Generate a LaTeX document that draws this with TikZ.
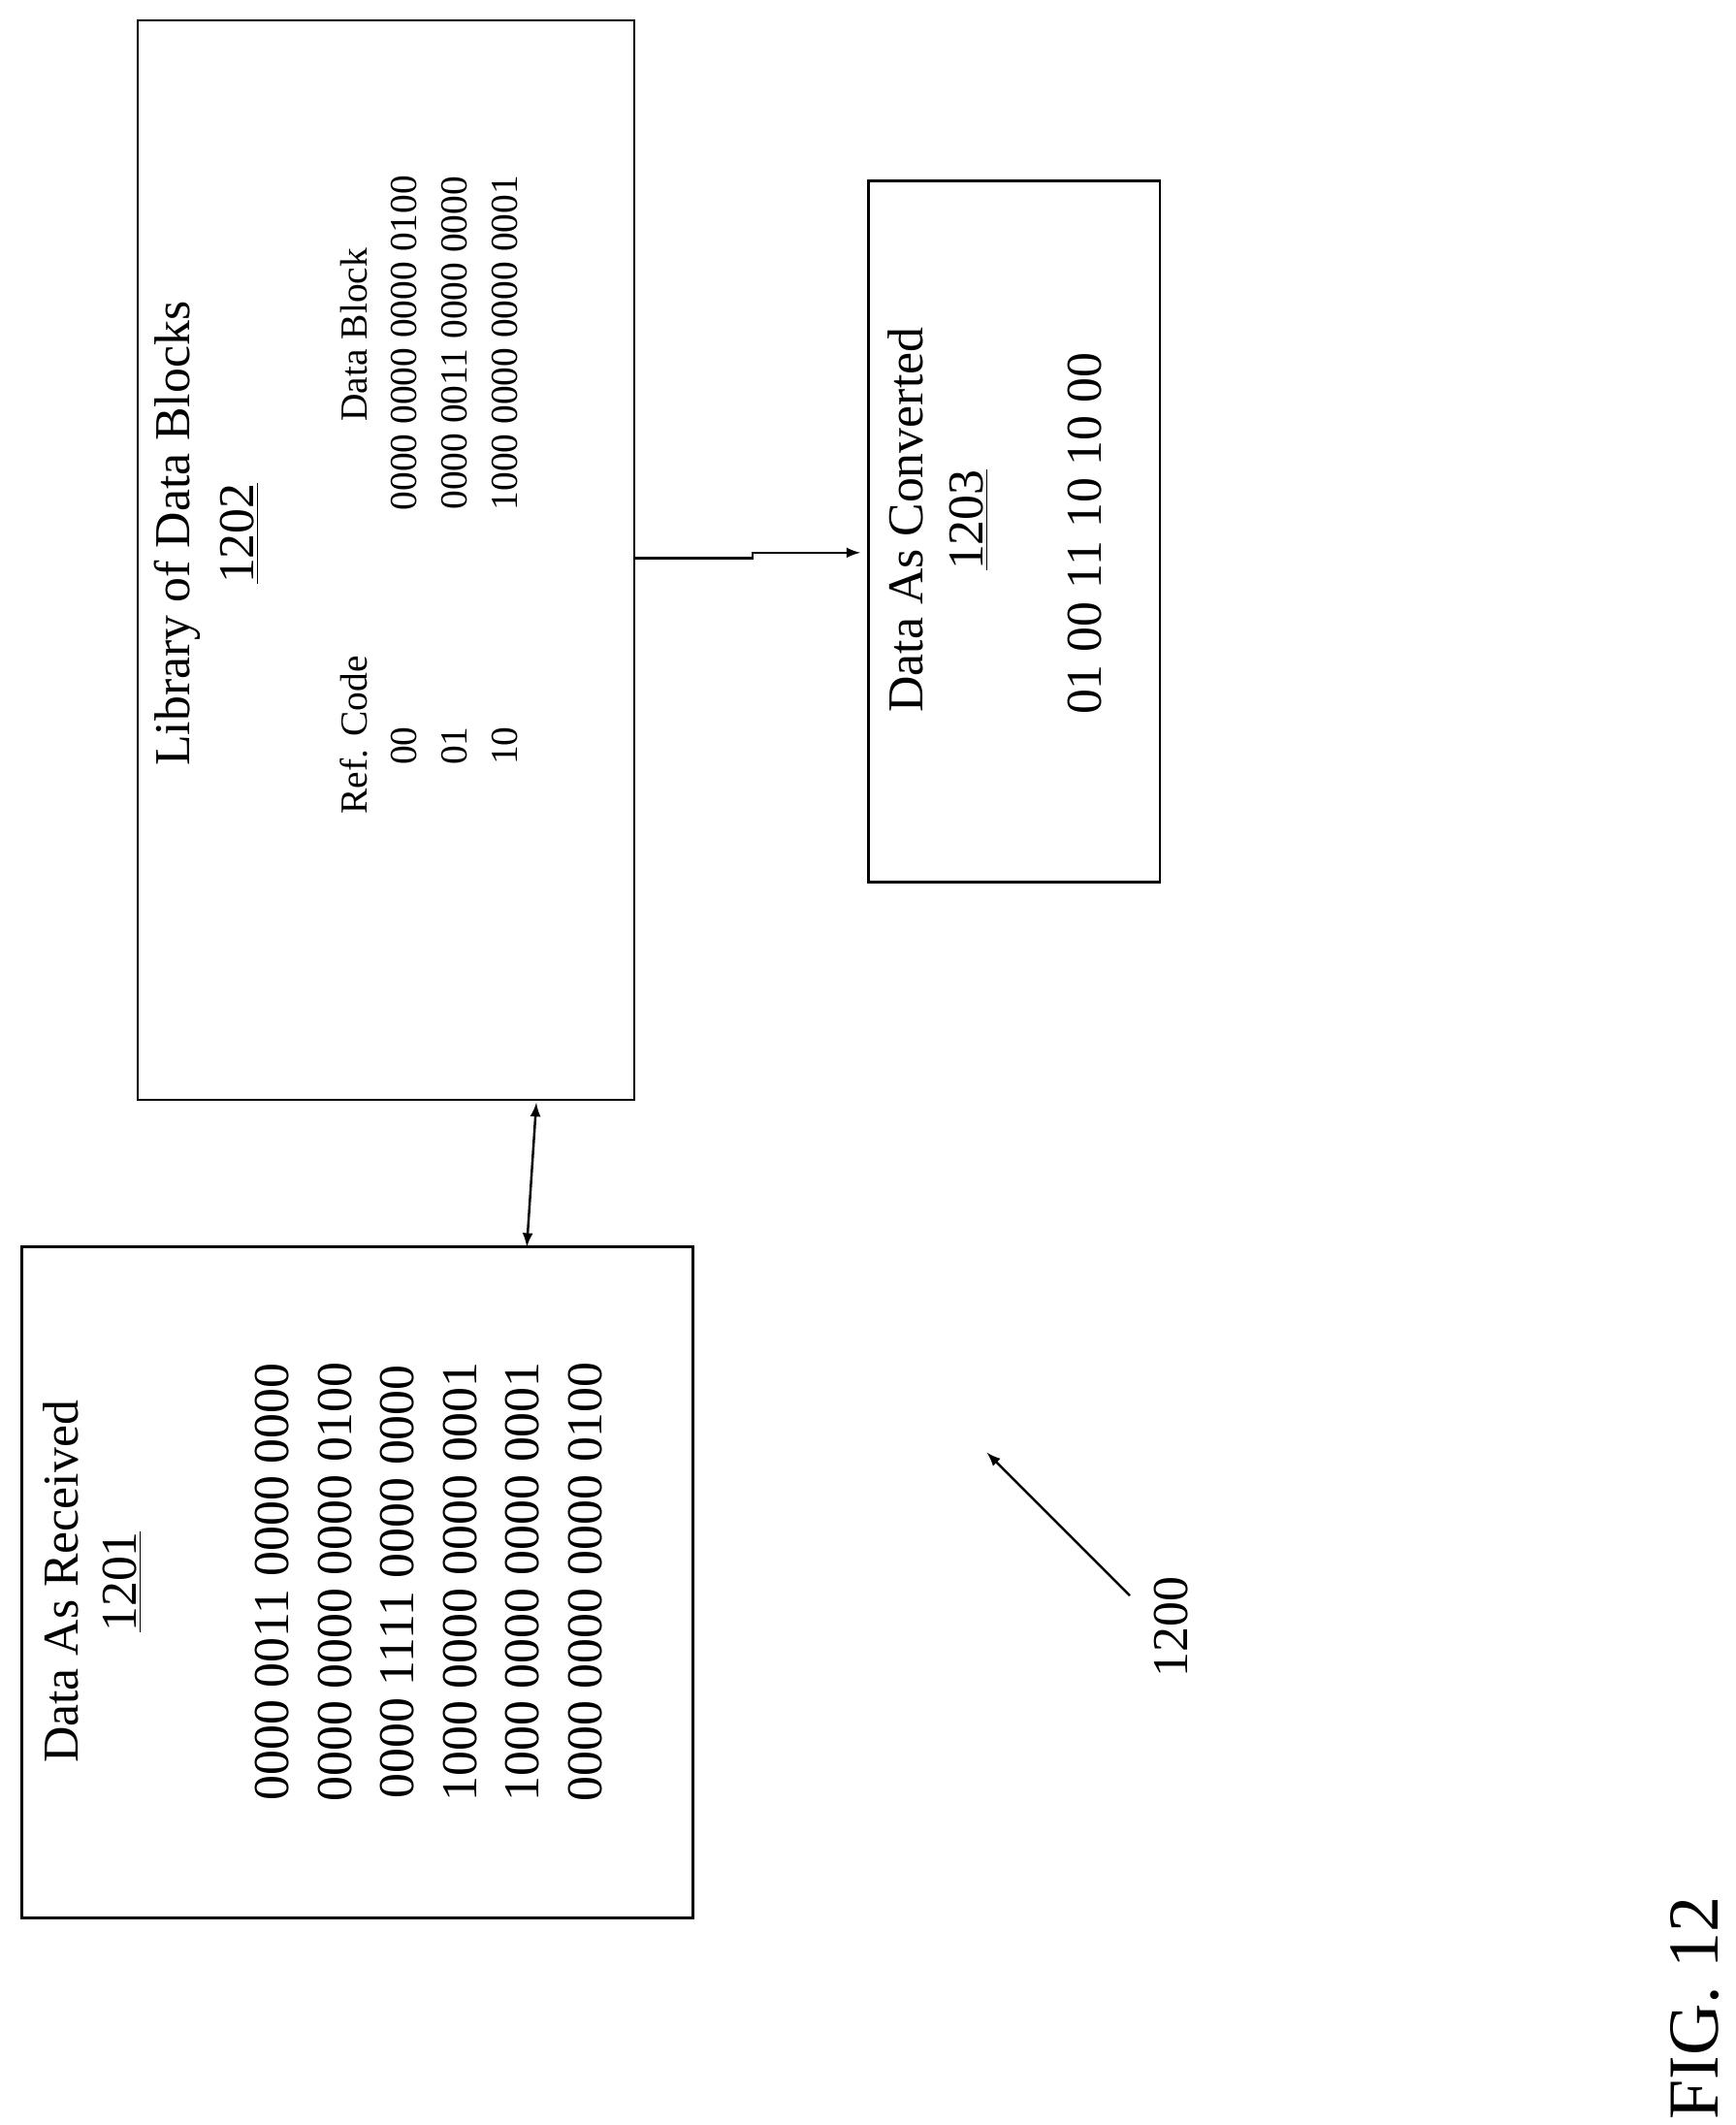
\documentclass[tikz,border=0pt]{standalone}
\usepackage{fontspec}
\setmainfont{Liberation Serif}
\begin{document}
\begin{tikzpicture}[
                            x=0.02cm, y=-0.02cm,
                            >=latex,
                            block/.style={draw, line width=1pt},
                            txt/.style={rotate=90, inner sep=0pt, font=\fontsize{21}{24}\selectfont},
                            small/.style={rotate=90, inner sep=0pt, font=\fontsize{16}{19}\selectfont}
                        ]
                        \useasboundingbox (0,0) rectangle (1275,1561);
                        % Blocks
                        \draw [block] (16,916) rectangle (509,1409);
                        \draw [block] (101,15) rectangle (466,808);
                        \draw [block] (638,133) rectangle (852,648);
                        \coordinate (recvT) at (387,916);
                        \coordinate (libB) at (394,810);
                        \coordinate (libR) at (466,410);
                        \coordinate (convL) at (632,406);

                        % Data as received
                        \node [txt] (recvTitle) at (45,1162) {Data As Received};
                        \node [txt] (recvNum) at (90,1162) {\underline{1201}};
                        \foreach \i/\s in {0/0000 0011 0000 0000,1/0000 0000 0000 0100,2/0000 1111 0000 0000,
                                           3/1000 0000 0000 0001,4/1000 0000 0000 0001,5/0000 0000 0000 0100}
                            \node [txt] (recv\i) at (200+46*\i,1162) {\s};

                        % Library
                        \node [txt] (libTitle) at (130,392) {Library of Data Blocks};
                        \node [txt] (libNum) at (176,392) {\underline{1202}};
                        \node [small] (refHead) at (260,540) {Ref. Code};
                        \node [small] (blockHead) at (260,246) {Data Block};
                        \foreach \i/\c/\s in {0/00/0000 0000 0000 0100,1/01/0000 0011 0000 0000,2/10/1000 0000 0000 0001}{
                            \node [small] (code\i) at (297+37*\i,548) {\c};
                            \node [small] (blk\i) at (297+37*\i,252) {\s};
                        }

                        % Data as converted
                        \node [txt] (convTitle) at (665,382) {Data As Converted};
                        \node [txt] (convNum) at (712,382) {\underline{1203}};
                        \node [txt] (convData) at (797,392) {01 00 11 10 10 00};

                        % Label
                        \node [txt] (ref) at (860,1195) {1200};
                        \coordinate (refTail) at (830,1172);
                        \coordinate (refHead2) at (725,1067);
                        \node [rotate=90, inner sep=0pt, font=\fontsize{30}{34}\selectfont] (fig) at (1245,1475) {FIG. 12};

                        % Connections
                        \draw [<->, line width=1pt] (recvT) -- (libB);
                        \draw [->, line width=1pt] (libR) -- (553,410) -- (553,406) -- (convL);
                        \draw [->, line width=1pt] (refTail) -- (refHead2);
                    \end{tikzpicture}
\end{document}
